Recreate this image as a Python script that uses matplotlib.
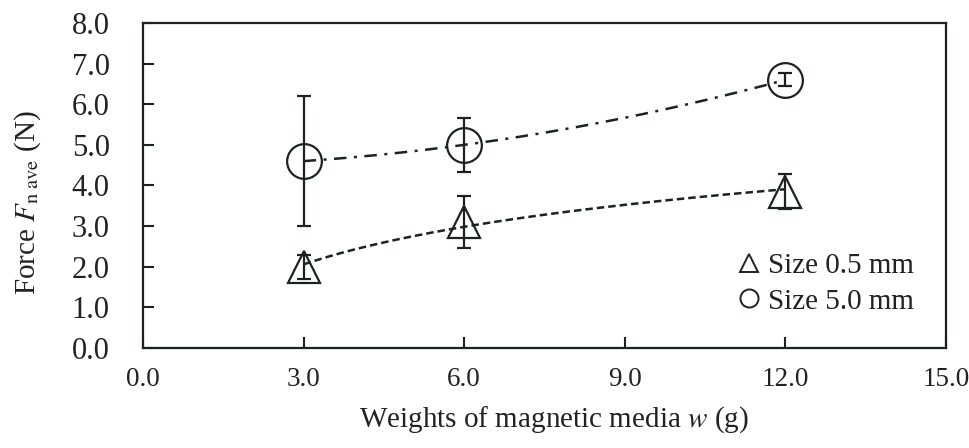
import numpy as np
import matplotlib
matplotlib.use("Agg")
import matplotlib.pyplot as plt
from matplotlib.lines import Line2D

plt.rcParams['font.family'] = ['Liberation Serif', 'DejaVu Serif']
plt.rcParams['mathtext.fontset'] = 'stix'

# Weights of magnetic media (g)
weights = [3.0, 6.0, 12.0]

# Average normal force (N) and its spread for each media size
force_small = [2.0, 3.1, 3.85]
err_small = [0.3, 0.65, 0.43]
force_large = [4.6, 5.0, 6.6]
err_large = [1.6, 0.67, 0.16]

series_labels = ['Size 0.5 mm', 'Size 5.0 mm']
xticks = [0, 3, 6, 9, 12, 15]
yticks = [0, 1, 2, 3, 4, 5, 6, 7, 8]

ink = '#1b2320'
txt = '#222222'

fig = plt.figure(figsize=(9.7, 4.48), dpi=100)
ax = fig.add_axes([0.1474, 0.2232, 0.8279, 0.7255])

w = np.array(weights)
xs = np.linspace(w.min(), w.max(), 200)

# Logarithmic trend for the 0.5 mm media
b, a = np.polyfit(np.log(w), np.array(force_small), 1)
ax.plot(xs, a + b * np.log(xs), color=ink, lw=1.8, dashes=(3.0, 1.6), zorder=2)

# Second-order polynomial trend for the 5.0 mm media
coef = np.polyfit(w, np.array(force_large), 2)
ax.plot(xs, np.polyval(coef, xs), color=ink, lw=1.8, dashes=(5.0, 3.0, 1.2, 3.0), zorder=2)

ax.errorbar(weights, force_small, yerr=err_small, fmt='^', ms=23, mfc='none',
            mec=ink, mew=1.6, ecolor=ink, elinewidth=1.6, capsize=5, capthick=1.6, zorder=3)
ax.errorbar(weights, force_large, yerr=err_large, fmt='o', ms=25, mfc='none',
            mec=ink, mew=1.6, ecolor=ink, elinewidth=1.6, capsize=5, capthick=1.6, zorder=3)

ax.set_xlim(0, 15)
ax.set_ylim(0, 8)
ax.set_xticks(xticks)
ax.set_yticks(yticks)
ax.set_xticklabels([f'{v:.1f}' for v in xticks])
ax.set_yticklabels([f'{v:.1f}' for v in yticks])
ax.tick_params(direction='in', length=8, width=1.5, color=ink, labelcolor=txt)
ax.tick_params(axis='x', pad=14, labelsize=19.5)
ax.tick_params(axis='y', pad=24, labelsize=22)
for s in ax.spines.values():
    s.set_linewidth(1.6)
    s.set_color(ink)

ax.set_xlabel(r'Weights of magnetic media $w$ (g)', fontsize=21, color=txt, va='center')
ax.xaxis.set_label_coords(0.512, -0.222)
ax.set_ylabel(r'Force $F_{\mathrm{n\ ave}}$ (N)', fontsize=21, color=txt, va='center')
ax.yaxis.set_label_coords(-0.143, 0.446)

handles = [
    Line2D([], [], ls='none', marker='^', ms=13, mfc='none', mec=ink, mew=1.4),
    Line2D([], [], ls='none', marker='o', ms=13, mfc='none', mec=ink, mew=1.4),
]
ax.legend(handles, series_labels, loc='lower right', bbox_to_anchor=(0.985, 0.04),
          frameon=False, fontsize=21, handlelength=0.8, handletextpad=0.25,
          labelspacing=0.3, borderpad=0.2, labelcolor=txt)

fig.savefig('out.png', dpi=100)
